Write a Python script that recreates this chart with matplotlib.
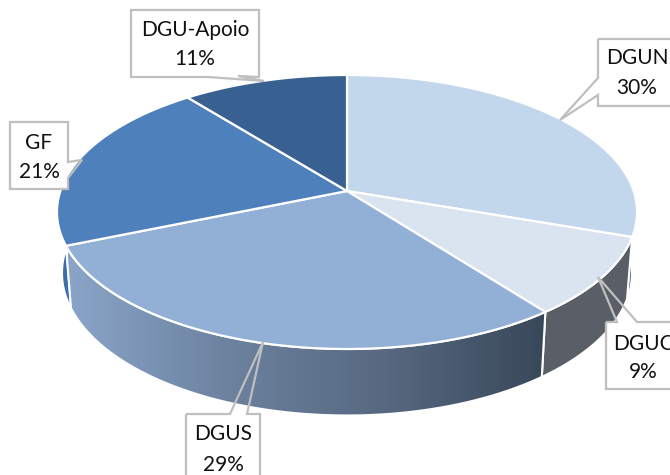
import numpy as np
import matplotlib
matplotlib.use("Agg")
import matplotlib.pyplot as plt
from matplotlib.patches import Polygon, Rectangle
from matplotlib.colors import LinearSegmentedColormap

categories = ["DGUN", "DGUC", "DGUS", "GF", "DGU-Apoio"]
values = [30.3, 9.3, 29.1, 20.6, 10.7]
labels = ["30%", "9%", "29%", "21%", "11%"]
top_colors = ["#C2D6EC", "#DAE3F0", "#92B0D6", "#4E80BC", "#386090"]

W, H = 670, 475
fig = plt.figure(figsize=(W / 100, H / 100), dpi=100)
ax = fig.add_axes([0, 0, 1, 1])
ax.set_xlim(0, W)
ax.set_ylim(H, 0)
ax.axis("off")

# perspective projection of the pie disc
CX, CY = 347.0, 191.0
K, PC, PA = 286.6, -0.1533, 104.5


def top_xy(theta):
    u, v = np.sin(theta), -np.cos(theta)
    d = 1 + PC * v
    return CX + K * u / d, (PA * v + CY) / d


def bottom_xy(theta):
    x, y = top_xy(theta)
    return CX + (x - CX) * 0.982, 273 + 1.04 * (y - 212)


cum = np.concatenate([[0], np.cumsum(values)]) / np.sum(values) * 2 * np.pi
arcs = [np.linspace(cum[i], cum[i + 1], 120) for i in range(len(values))]


def side_poly(th):
    xt, yt = top_xy(th)
    xb, yb = bottom_xy(th[::-1])
    return np.column_stack([np.r_[xt, xb], np.r_[yt, yb]])


# sides: back slivers first
ax.add_patch(Polygon(side_poly(arcs[3][:60]), fc="#3C6EAA", ec="white", lw=1.2, zorder=1))
ax.add_patch(Polygon(side_poly(arcs[0][40:]), fc="#5A5E66", ec="white", lw=1.2, zorder=1))
ax.add_patch(Polygon(side_poly(arcs[1]), fc="#5A5E66", ec="white", lw=1.5, zorder=2))

p = Polygon(side_poly(arcs[2]), fc="none", ec="white", lw=1.5, zorder=3)
ax.add_patch(p)
cmap = LinearSegmentedColormap.from_list("side", ["#8AA5C9", "#6C829F", "#576880", "#394859"])
im = ax.imshow(np.linspace(0, 1, 256)[None, :], extent=(68, 545, 420, 240), cmap=cmap,
               aspect="auto", zorder=2.5)
im.set_clip_path(p)
ax.set_xlim(0, W)
ax.set_ylim(H, 0)

# top face
for th, c in zip(arcs, top_colors):
    x, y = top_xy(th)
    ax.add_patch(Polygon(np.column_stack([np.r_[CX, x], np.r_[CY, y]]),
                         fc=c, ec="white", lw=1.6, joinstyle="round", zorder=4))

# callouts: outline (pointer is hollow), white box, two text rows
callouts = {
    "DGU-Apoio": ([(131, 10), (259, 10), (259, 77), (238, 76), (264, 81), (208, 77), (131, 77)], (131, 10, 128, 67), (195, 30), (195, 59)),
    "GF": ([(10, 122), (68, 122), (68, 162), (82, 160), (68, 178), (68, 189), (10, 189)], (10, 122, 58, 67), (39, 143), (39, 172)),
    "DGUN": ([(598, 39), (680, 39), (680, 106), (598, 106), (598, 95), (560, 120), (598, 78)], (598, 39, 82, 67), (637, 58), (637, 88)),
    "DGUC": ([(606, 322), (617, 322), (598, 277), (637, 322), (690, 322), (690, 389), (606, 389)], (606, 322, 84, 67), (643, 344), (643, 372)),
    "DGUS": ([(186, 414), (230, 414), (263, 342), (247, 414), (260, 414), (260, 495), (186, 495)], (186, 414, 74, 81), (223, 434), (223, 465)),
}
for name, lab in zip(categories, labels):
    pts, box, t1, t2 = callouts[name]
    ax.add_patch(Rectangle(box[:2], box[2], box[3], fc="white", ec="none", zorder=5))
    ax.add_patch(Polygon(pts, fc="none", ec="#BFBFBF", lw=1.6, zorder=6))
    ax.text(*t1, name, ha="center", va="center", fontsize=15, family="Lato", color="#111111", zorder=7)
    ax.text(*t2, lab, ha="center", va="center", fontsize=15, family="Lato", color="#111111", zorder=7)

fig.savefig("out.png", dpi=100)
